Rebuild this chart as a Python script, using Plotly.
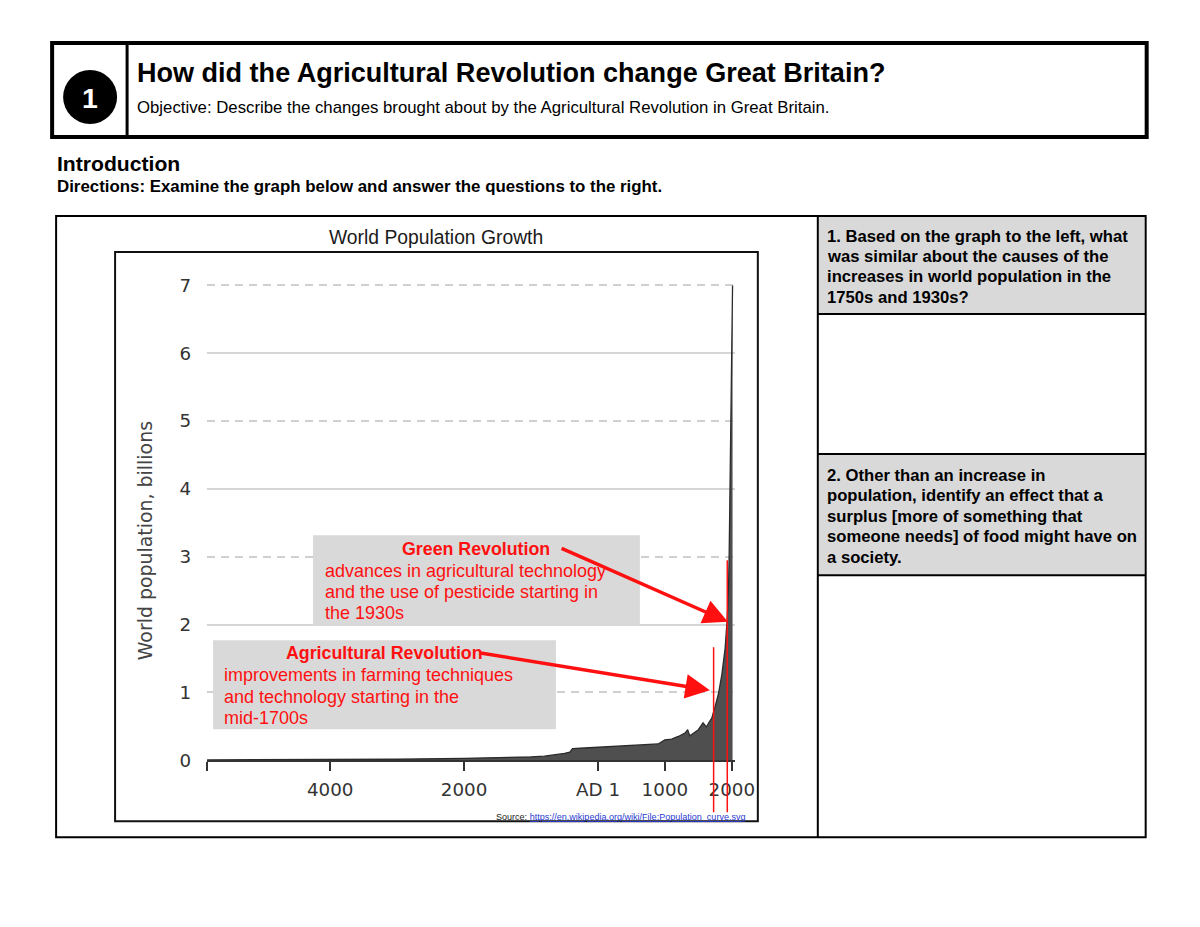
import plotly.graph_objects as go

# the page adds an 8px body margin, so the figure is 16px smaller than the window
MARGIN = 8
W, H = 1200 - 2 * MARGIN, 927 - 2 * MARGIN
# the captured page comes out slightly shrunk and shifted down; undo that
SX, SY, DY = 0.9835, 0.981, 7.2
K = 1 / SX

# World population estimates (billions)
YEARS = [-5840, -5000, -4000, -3000, -2000, -1500, -1000, -800, -600, -500,
         -420, -380, -200, 1, 200, 400, 600, 800, 900, 1000, 1100, 1200,
         1250, 1300, 1340, 1370, 1400, 1500, 1570, 1620, 1660, 1700, 1750,
         1800, 1850, 1900, 1930, 1950, 1960, 1970, 1980, 1990, 2000, 2011]
POP = [0.004, 0.005, 0.007, 0.014, 0.027, 0.035, 0.05, 0.06, 0.08, 0.10,
       0.12, 0.17, 0.18, 0.19, 0.21, 0.21, 0.22, 0.23, 0.24, 0.30, 0.31, 0.35,
       0.38, 0.40, 0.45, 0.36, 0.38, 0.45, 0.55, 0.49, 0.56, 0.62, 0.79,
       0.98, 1.26, 1.65, 2.07, 2.52, 3.02, 3.70, 4.44, 5.32, 6.06, 7.0]

X_TICK_VALS = [-5840, -4000, -2000, 1, 1000, 2000]
X_TICK_TEXT = ["", "4000", "2000", "AD 1", "1000", "2000"]
Y_TICK_VALS = [0, 1, 2, 3, 4, 5, 6, 7]
SOLID_GRID = [2, 4, 6]
DASHED_GRID = [1, 3, 5, 7]
REVOLUTION_YEARS = [1728, 1932]

Q1_LINES = ["1. Based on the graph to the left, what",
            "was similar about the causes of the",
            "increases in world population in the",
            "1750s and 1930s?"]
Q2_LINES = ["2. Other than an increase in",
            "population, identify an effect that a",
            "surplus [more of something that",
            "someone needs] of food might have on",
            "a society."]
GREEN_LINES = ["advances in agricultural technology",
               "and the use of pesticide starting in",
               "the 1930s"]
AGRI_LINES = ["improvements in farming techniques",
              "and technology starting in the",
              "mid-1700s"]

SANS = "Liberation Sans, Arial, Helvetica, sans-serif"
CHART_FONT = "DejaVu Sans, sans-serif"
RED = "#ff1010"
GRAY_CELL = "#d9d9d9"


def px(x):
    return (x / SX - MARGIN) / W


def py(y):
    return 1 - ((y - DY) / SY - MARGIN) / H


def rect(x0, y0, x1, y1, line_w=0, fill=None, layer="below", color="black"):
    return dict(type="rect", xref="paper", yref="paper",
                x0=px(x0), x1=px(x1), y0=py(y1), y1=py(y0),
                line=dict(width=line_w, color=color),
                fillcolor=fill if fill else "rgba(0,0,0,0)", layer=layer)


def hline(x0, x1, y, w=2):
    return dict(type="line", xref="paper", yref="paper",
                x0=px(x0), x1=px(x1), y0=py(y), y1=py(y),
                line=dict(width=w, color="black"), layer="above")


def vline(x, y0, y1, w=2):
    return dict(type="line", xref="paper", yref="paper",
                x0=px(x), x1=px(x), y0=py(y0), y1=py(y1),
                line=dict(width=w, color="black"), layer="above")


def text(x, y, s, size, color="black", anchor="left", bold=False, angle=0,
         family=SANS):
    return dict(x=px(x), y=py(y), xref="paper", yref="paper",
                text=f"<b>{s}</b>" if bold else s, showarrow=False,
                xanchor=anchor, yanchor="middle", textangle=angle,
                font=dict(size=size * K, color=color, family=family))


fig = go.Figure()

fig.add_trace(go.Scatter(
    x=YEARS, y=POP, mode="lines", fill="tozeroy",
    fillcolor="#4f4f4f", line=dict(color="#2b2b2b", width=1.3),
    hoverinfo="skip", showlegend=False,
))
# empty trace so the grid axis is drawn
fig.add_trace(go.Scatter(x=[YEARS[0]], y=[0], yaxis="y2", mode="markers",
                         marker=dict(opacity=0), hoverinfo="skip",
                         showlegend=False))

shapes = [
    # header
    rect(52, 43, 1147, 137, line_w=4),
    vline(127, 43, 137, w=3),
    dict(type="circle", xref="paper", yref="paper",
         x0=px(63), x1=px(117), y0=py(124), y1=py(70),
         fillcolor="black", line=dict(width=0)),
    # right column cells
    rect(819, 217, 1145, 314, fill=GRAY_CELL),
    rect(819, 454, 1145, 575, fill=GRAY_CELL),
    rect(56, 216, 1146, 837, line_w=2, layer="above"),
    vline(818, 216, 837),
    hline(818, 1146, 314),
    hline(818, 1146, 454),
    hline(818, 1146, 575),
    # graph frame
    rect(115, 252, 758, 821, line_w=2, layer="above", color="#111"),
    # callout boxes
    rect(313, 535, 640, 625, fill=GRAY_CELL, layer="above"),
    rect(213, 640, 556, 729, fill=GRAY_CELL, layer="above"),
]
for yr, top in zip(REVOLUTION_YEARS, [647, 560]):
    shapes.append(dict(type="line", xref="x", yref="paper", x0=yr, x1=yr,
                       y0=py(812), y1=py(top),
                       line=dict(color=RED, width=1.5), layer="above"))

ann = [
    text(90, 98, "1", 28, color="white", anchor="center", bold=True),
    text(135, 73, "How did the Agricultural Revolution change Great Britain?",
         26.6, bold=True),
    text(135, 108, "Objective: Describe the changes brought about by the "
         "Agricultural Revolution in Great Britain.", 16.5),
    text(55, 163, "Introduction", 20.8, bold=True),
    text(55, 186, "Directions: Examine the graph below and answer the "
         "questions to the right.", 16.6, bold=True),
    text(436, 237, "World Population Growth", 19, color="#1a1a1a",
         anchor="center"),
    text(145, 541, "World population, billions", 18.6, color="#444",
         anchor="center", angle=-90, family=CHART_FONT),
    text(476, 549, "Green Revolution", 17.5, color=RED, anchor="center",
         bold=True),
    text(385, 653, "Agricultural Revolution", 17.5, color=RED,
         anchor="center", bold=True),
    text(748, 817, "Source: <span style='color:#2a3bd0'><u>https://en.wikipedia"
         ".org/wiki/File:Population_curve.svg</u></span>", 8.9, color="#222",
         anchor="right"),
]
for i, s in enumerate(GREEN_LINES):
    ann.append(text(323, 571 + 21 * i, s, 17.7, color=RED))
for i, s in enumerate(AGRI_LINES):
    ann.append(text(222, 675 + 21.5 * i, s, 17.7, color=RED))
for i, s in enumerate(Q1_LINES):
    ann.append(text(825, 236 + 20.4 * i, s, 16.4, bold=True))
for i, s in enumerate(Q2_LINES):
    ann.append(text(825, 475 + 20.5 * i, s, 16.4, bold=True))

# arrows from the callout titles to the curve
for tip_year, tip_pop, dx, dy in [(1941, 2.04, -165, -73),
                                  (1672, 1.03, -227, -37)]:
    ann.append(dict(x=tip_year, y=tip_pop, xref="x", yref="y", text="",
                    showarrow=True, ax=dx * K, ay=dy * K, arrowcolor=RED,
                    arrowwidth=3.5, arrowhead=2, arrowsize=1.4,
                    standoff=0, startstandoff=0))

fig.update_layout(
    width=W, height=H, margin=dict(l=0, r=0, t=0, b=0),
    paper_bgcolor="white", plot_bgcolor="rgba(0,0,0,0)",
    showlegend=False, shapes=shapes, annotations=ann,
    xaxis=dict(
        domain=[px(207), px(735)], range=[-5840, 2045],
        tickmode="array", tickvals=X_TICK_VALS, ticktext=X_TICK_TEXT,
        showgrid=False, zeroline=False, showline=True, linecolor="#333",
        linewidth=1.5, ticks="outside", ticklen=9, tickwidth=1.5,
        tickcolor="#333", ticklabelstandoff=3,
        tickfont=dict(family=CHART_FONT, size=18 * K, color="#333"),
    ),
    yaxis=dict(
        domain=[py(760), py(282)], range=[0, 7.05],
        tickmode="array", tickvals=Y_TICK_VALS, showgrid=False,
        zeroline=False, showline=False, ticks="", ticklabelstandoff=15,
        tickfont=dict(family=CHART_FONT, size=18 * K, color="#333"),
    ),
    yaxis2=dict(
        overlaying="y", range=[0, 7.05], showticklabels=False,
        tickmode="array", tickvals=SOLID_GRID, showgrid=True,
        gridcolor="#d6d6d6", gridwidth=1.5, zeroline=False, ticks="",
        minor=dict(tickmode="array", tickvals=DASHED_GRID, showgrid=True,
                   gridcolor="#d0d0d0", gridwidth=1.5, griddash="8px,6px",
                   ticks=""),
    ),
)

fig.write_html("out.html", config={"displayModeBar": False})
